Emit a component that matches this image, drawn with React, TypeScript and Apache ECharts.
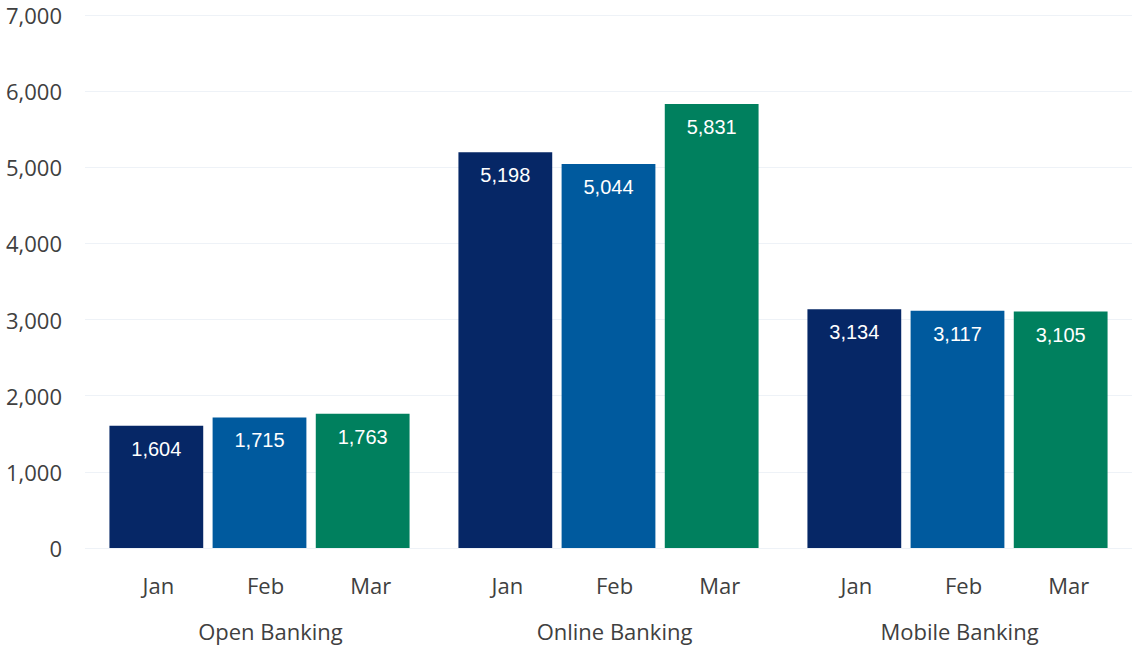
import React, { useEffect, useRef } from "react";
import * as echarts from "echarts";

const groups = ["Open Banking", "Online Banking", "Mobile Banking"];
const months = ["Jan", "Feb", "Mar"];
const janValues = [1604, 5198, 3134];
const febValues = [1715, 5044, 3117];
const marValues = [1763, 5831, 3105];
const monthColors = ["#062766", "#005a9e", "#00805e"];
const yTicks = { min: 0, max: 7000, interval: 1000 };

export default function App() {
  const ref = useRef<HTMLDivElement>(null);
  useEffect(() => {
    document.body.style.margin = "0";
    if (!ref.current) return;
    const chart = echarts.init(ref.current, null, { renderer: "svg" });
    const valuesByMonth = [janValues, febValues, marValues];
    const monthLabelShift = [2, 6, 8];
    const groupLabelShift = [11, 6, 2];
    const series: any[] = [];
    months.forEach((m, i) => {
      series.push({
        name: m + "-label",
        type: "bar",
        stack: m,
        data: groups.map(() => 0),
        itemStyle: { color: "rgba(0,0,0,0)" },
        label: {
          show: true,
          position: "bottom",
          distance: 26,
          offset: [monthLabelShift[i], 0],
          formatter: () => m,
          color: "#404040",
          fontFamily: "Open Sans",
          fontSize: 22,
        },
        silent: true,
      });
      series.push({
        name: m,
        type: "bar",
        stack: m,
        data: valuesByMonth[i],
        itemStyle: { color: monthColors[i] },
        label: {
          show: true,
          position: "insideTop",
          distance: 13,
          color: "#ffffff",
          fontFamily: "Liberation Sans, Arial",
          fontSize: 20,
          formatter: (p: any) => Number(p.value).toLocaleString("en-US"),
        },
      });
    });
    chart.setOption({
      animation: false,
      grid: { left: 85, right: 0, top: 15, bottom: 97 },
      xAxis: {
        type: "category",
        data: groups.map((g, i) => ({
          value: g,
          textStyle: { padding: [0, 0, 0, groupLabelShift[i] * 2] },
        })),
        axisLine: { show: false },
        axisTick: { show: false },
        axisLabel: {
          margin: 70,
          color: "#404040",
          fontFamily: "Open Sans",
          fontSize: 22,
          lineHeight: 26,
        },
      },
      yAxis: {
        type: "value",
        min: yTicks.min,
        max: yTicks.max,
        interval: yTicks.interval,
        axisLine: { show: false },
        axisTick: { show: false },
        splitLine: { lineStyle: { color: "#eef2f7", width: 1 } },
        axisLabel: {
          margin: 23,
          color: "#404040",
          fontFamily: "Open Sans",
          fontSize: 22,
          formatter: (v: number) => v.toLocaleString("en-US"),
        },
      },
      series: series.map((s) => ({ ...s, barCategoryGap: "14%", barGap: "10%" })),
    });
    return () => chart.dispose();
  }, []);
  return <div ref={ref} style={{ width: 1132, height: 645 }} />;
}
